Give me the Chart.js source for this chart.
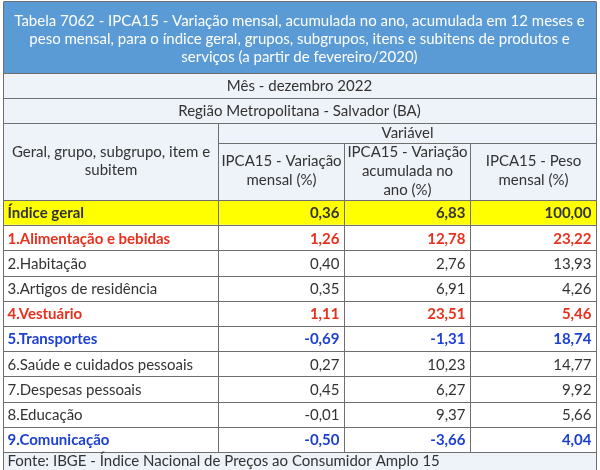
<!DOCTYPE html>
<html>
<head>
<meta charset="utf-8">
<script src="https://cdn.jsdelivr.net/npm/chart.js@4.4.1/dist/chart.umd.min.js"></script>
<style>
    body { margin: 0; background: #fff; }
    #wrap { width: 600px; height: 470px; }
</style>
</head>
<body>
<div id="wrap"><canvas id="tabela-ipca15"></canvas></div>
<script>
// dados da tabela 7062 (IPCA15, Salvador, dez/2022)
const titleLines = [
    'Tabela 7062 - IPCA15 - Variação mensal, acumulada no ano, acumulada em 12 meses e',
    'peso mensal, para o índice geral, grupos, subgrupos, itens e subitens de produtos e',
    'serviços (a partir de fevereiro/2020)'
];
const monthLabel = 'Mês - dezembro 2022';
const regionLabel = 'Região Metropolitana - Salvador (BA)';
const variableLabel = 'Variável';
const rowHeader = ['Geral, grupo, subgrupo, item e', 'subitem'];
const columnHeaders = [
    ['IPCA15 - Variação', 'mensal (%)'],
    ['IPCA15 - Variação', 'acumulada no', 'ano (%)'],
    ['IPCA15 - Peso', 'mensal (%)']
];
const categories = [
    'Índice geral',
    '1.Alimentação e bebidas',
    '2.Habitação',
    '3.Artigos de residência',
    '4.Vestuário',
    '5.Transportes',
    '6.Saúde e cuidados pessoais',
    '7.Despesas pessoais',
    '8.Educação',
    '9.Comunicação'
];
const monthly = [0.36, 1.26, 0.40, 0.35, 1.11, -0.69, 0.27, 0.45, -0.01, -0.50];
const yearToDate = [6.83, 12.78, 2.76, 6.91, 23.51, -1.31, 10.23, 6.27, 9.37, -3.66];
const weights = [100.00, 23.22, 13.93, 4.26, 5.46, 18.74, 14.77, 9.92, 5.66, 4.04];
// destaque de cada linha: geral, alta (maiores variações), baixa (menores)
const highlight = ['geral', 'alta', '', '', 'alta', 'baixa', '', '', '', 'baixa'];
const sourceNote = 'Fonte: IBGE - Índice Nacional de Preços ao Consumidor Amplo 15';

const FONT = 'Lato, "Open Sans", sans-serif';
const FONT_SIZE = 15;
const LABEL_COL = 215 / 126; // largura da 1a coluna em unidades de coluna
const LINE = '#6f6f6f';
const HEAD_BG = '#eef2f9';
const BAND = '#5b9bd5';
const TEXT = '#333333';
const textColors = { geral: '#333333', alta: '#e8301c', baixa: '#1c3fd4', '': '#333333' };

const fmt = v => v.toFixed(2).replace('.', ',');
const series = [monthly, yearToDate, weights];

const rowFill = categories.map((c, i) => highlight[i] === 'geral' ? '#ffff00' : '#ffffff');

const cellDatasets = [
    { label: 'Categoria', data: categories.map(() => [-LABEL_COL, 0]) },
    { label: 'Mensal', data: monthly.map(() => [0, 1]) },
    { label: 'Acumulada no ano', data: yearToDate.map(() => [1, 2]) },
    { label: 'Peso', data: weights.map(() => [2, 3]) }
].map(d => ({
    ...d,
    backgroundColor: rowFill,
    borderWidth: 0,
    grouped: false,
    barPercentage: 1,
    categoryPercentage: 1
}));

const line = (ctx, x1, y1, x2, y2) => {
    ctx.beginPath();
    ctx.moveTo(x1, y1);
    ctx.lineTo(x2, y2);
    ctx.stroke();
};

const writeText = (ctx, txt, x, y, align, color, bold) => {
    ctx.font = `${bold ? 'bold ' : ''}${FONT_SIZE}px ${FONT}`;
    ctx.fillStyle = color;
    ctx.textAlign = align;
    ctx.textBaseline = 'middle';
    ctx.fillText(txt, x, y);
};

const tablePlugin = {
    id: 'tablePlugin',
    beforeDatasetsDraw(chart) {
        const { ctx, chartArea: a } = chart;
        const top = a.top;
        ctx.save();
        // faixa do título
        ctx.fillStyle = BAND;
        ctx.fillRect(a.left, top - 198, a.right - a.left, 71);
        // linhas de cabeçalho e rodapé
        ctx.fillStyle = HEAD_BG;
        ctx.fillRect(a.left, top - 127, a.right - a.left, 127);
        ctx.fillRect(a.left, a.bottom, a.right - a.left, 18);
        ctx.restore();
    },
    afterDatasetsDraw(chart) {
        const { ctx, chartArea: a, scales: { x, y } } = chart;
        const top = a.top;
        const half = (y.getPixelForValue(1) - y.getPixelForValue(0)) / 2;
        const edges = [-LABEL_COL, 0, 1, 2, 3].map(v => Math.round(x.getPixelForValue(v)) + 0.5);
        ctx.save();
        ctx.strokeStyle = LINE;
        ctx.lineWidth = 1;

        // linhas horizontais
        [top - 127, top - 102, top - 77, top].forEach(py => line(ctx, edges[0], py + 0.5, edges[4], py + 0.5));
        line(ctx, edges[1], top - 57 + 0.5, edges[4], top - 57 + 0.5);
        categories.forEach((c, i) => {
            const py = Math.round(y.getPixelForValue(i) + half) + 0.5;
            line(ctx, edges[0], py, edges[4], py);
        });
        // linhas verticais
        line(ctx, edges[0], top - 198, edges[0], a.bottom + 18);
        line(ctx, edges[4], top - 198, edges[4], a.bottom + 18);
        line(ctx, edges[1], top - 77, edges[1], a.bottom);
        line(ctx, edges[2], top - 57, edges[2], a.bottom);
        line(ctx, edges[3], top - 57, edges[3], a.bottom);
        line(ctx, edges[0], top - 198.5, edges[4], top - 198.5);

        // título
        const cx = (a.left + a.right) / 2;
        titleLines.forEach((t, i) => writeText(ctx, t, cx, top - 179 + i * 18, 'center', '#ffffff', false));
        writeText(ctx, monthLabel, cx, top - 114, 'center', TEXT, false);
        writeText(ctx, regionLabel, cx, top - 89, 'center', TEXT, false);
        writeText(ctx, variableLabel, (edges[1] + edges[4]) / 2, top - 67, 'center', TEXT, false);
        rowHeader.forEach((t, i) => writeText(ctx, t, (edges[0] + edges[1]) / 2, top - 48 + i * 18, 'center', TEXT, false));
        columnHeaders.forEach((lines, k) => {
            const mid = (edges[k + 1] + edges[k + 2]) / 2;
            const start = top - 29 - (lines.length - 1) * 9.5;
            lines.forEach((t, i) => writeText(ctx, t, mid, start + i * 19, 'center', TEXT, false));
        });

        // linhas de dados
        categories.forEach((c, i) => {
            const py = y.getPixelForValue(i) + 1;
            const kind = highlight[i];
            const bold = kind !== '';
            const color = textColors[kind];
            writeText(ctx, c, edges[0] + 4, py, 'left', color, bold);
            series.forEach((s, k) => writeText(ctx, fmt(s[i]), edges[k + 2] - 5, py, 'right', color, bold));
        });

        writeText(ctx, sourceNote, edges[0] + 4, a.bottom + 9, 'left', TEXT, false);
        ctx.restore();
    }
};

new Chart(document.getElementById('tabela-ipca15').getContext('2d'), {
    type: 'bar',
    data: { labels: categories, datasets: cellDatasets },
    options: {
        indexAxis: 'y',
        responsive: true,
        maintainAspectRatio: false,
        animation: false,
        layout: { padding: { left: 3, right: 4, top: 200, bottom: 18 } },
        scales: {
            x: { type: 'linear', min: -LABEL_COL, max: 3, display: false },
            y: { type: 'category', offset: true, display: false }
        },
        plugins: { legend: { display: false }, tooltip: { enabled: false } }
    },
    plugins: [tablePlugin]
});
</script>
</body>
</html>
